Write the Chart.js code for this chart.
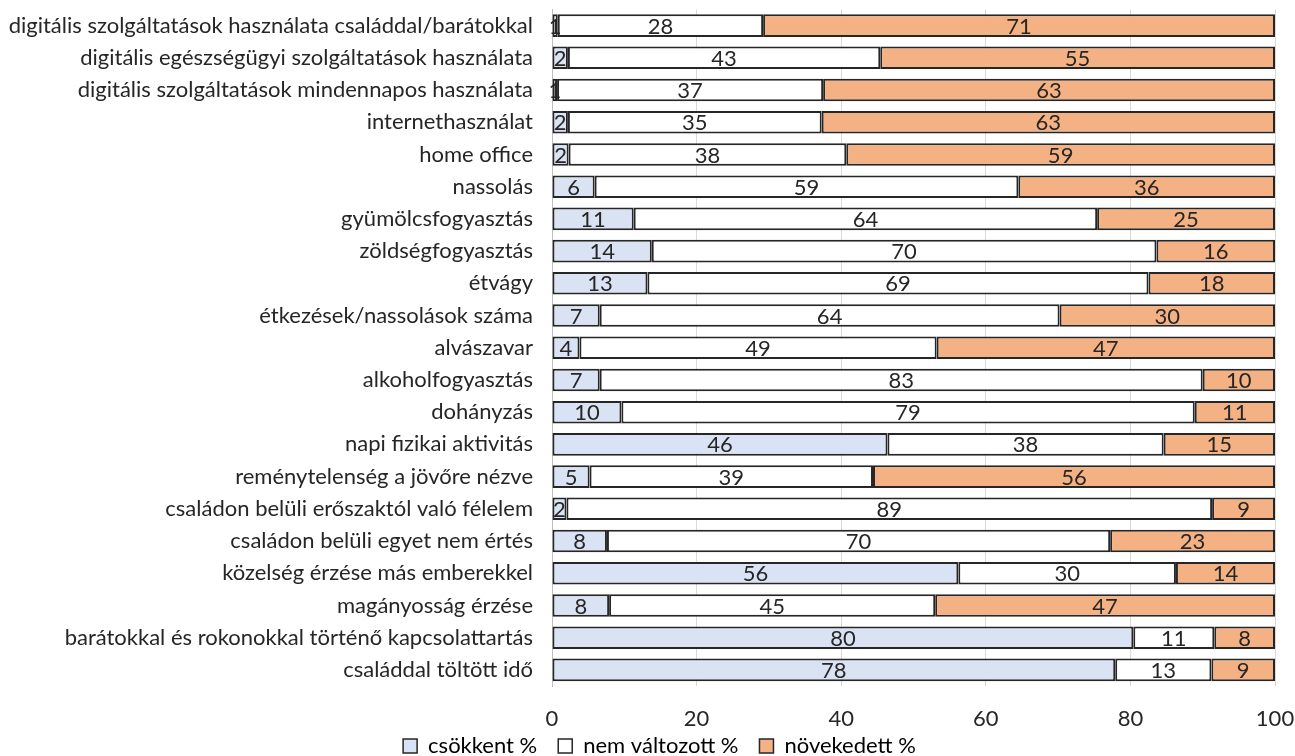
<!DOCTYPE html>
<html>
<head>
<meta charset="utf-8">
<script src="https://cdn.jsdelivr.net/npm/chart.js@4/dist/chart.umd.min.js"></script>
<style>
    body { margin: 0; background: #fff; }
    #wrap { width: 1295px; height: 756px; }
</style>
</head>
<body>
<div id="wrap"><canvas id="chart"></canvas></div>
<script>
const categories = [
    "digitális szolgáltatások használata családdal/barátokkal",
    "digitális egészségügyi szolgáltatások használata",
    "digitális szolgáltatások mindennapos használata",
    "internethasználat",
    "home office",
    "nassolás",
    "gyümölcsfogyasztás",
    "zöldségfogyasztás",
    "étvágy",
    "étkezések/nassolások száma",
    "alvászavar",
    "alkoholfogyasztás",
    "dohányzás",
    "napi fizikai aktivitás",
    "reménytelenség a jövőre nézve",
    "családon belüli erőszaktól való félelem",
    "családon belüli egyet nem értés",
    "közelség érzése más emberekkel",
    "magányosság érzése",
    "barátokkal és rokonokkal történő kapcsolattartás",
    "családdal töltött idő"
];

// values (labels are the rounded values)
const decreased = [0.8, 2.2, 0.7, 2.2, 2.3, 5.9, 11.3, 13.8, 13.2, 6.6, 3.8, 6.6, 9.6, 46.4, 5.2, 2.0, 7.6, 56.2, 7.9, 80.4, 77.9];
const unchanged = [28.4, 43.2, 36.8, 35.1, 38.4, 58.6, 64.1, 69.8, 69.3, 63.6, 49.4, 83.4, 79.3, 38.2, 39.2, 89.3, 69.6, 30.1, 45.1, 11.2, 13.3];
const increased = [70.8, 54.6, 62.5, 62.7, 59.3, 35.5, 24.6, 16.4, 17.5, 29.8, 46.8, 10.0, 11.1, 15.4, 55.6, 8.7, 22.8, 13.7, 47.0, 8.4, 8.8];

const seriesNames = ["csökkent %", "nem változott %", "növekedett %"];
const seriesColors = ["#dae3f3", "#ffffff", "#f4b183"];
const xTicks = [0, 20, 40, 60, 80, 100];

const fontFamily = "Lato, 'Open Sans', sans-serif";
const textColor = "#262626";

// draws the rounded value in the middle of every segment
const segmentLabels = {
    id: 'segmentLabels',
    afterDatasetsDraw(chart) {
        const ctx = chart.ctx;
        ctx.save();
        ctx.font = "22px " + fontFamily;
        ctx.fillStyle = textColor;
        ctx.textAlign = 'center';
        ctx.textBaseline = 'middle';
        chart.data.datasets.forEach((ds, i) => {
            const meta = chart.getDatasetMeta(i);
            meta.data.forEach((bar, j) => {
                const p = bar.getCenterPoint();
                ctx.fillText(String(Math.round(ds.data[j])), p.x, p.y + 1);
            });
        });
        ctx.restore();
    }
};

// legend padding also spaces the items, so move the legend a bit afterwards
const legendNudge = {
    id: 'legendNudge',
    afterLayout(chart) {
        chart.legend.top -= 12;
        chart.legend.bottom -= 12;
        chart.legend.left += 22;
        chart.legend.right += 22;
    }
};

const dataSets = [decreased, unchanged, increased].map((values, i) => ({
    label: seriesNames[i],
    data: values,
    backgroundColor: seriesColors[i],
    borderColor: '#262626',
    borderWidth: 2,
    borderSkipped: false,
    barPercentage: 0.7,
    categoryPercentage: 1.0
}));

new Chart(document.getElementById('chart'), {
    type: 'bar',
    data: {
        labels: categories,
        datasets: dataSets
    },
    plugins: [segmentLabels, legendNudge],
    options: {
        indexAxis: 'y',
        responsive: true,
        maintainAspectRatio: false,
        animation: false,
        layout: {
            padding: { top: 9.5, right: 20, bottom: -23, left: 0 }
        },
        scales: {
            x: {
                stacked: true,
                min: 0,
                max: 100,
                afterBuildTicks: (scale) => {
                    scale.ticks = xTicks.map(v => ({ value: v }));
                },
                afterFit: (scale) => {
                    scale.height = 40;
                    scale.paddingLeft = 0;
                    scale.paddingRight = 0;
                },
                grid: { color: '#d9d9d9', drawTicks: false },
                border: { display: false },
                ticks: {
                    padding: 20,
                    color: textColor,
                    font: { family: fontFamily, size: 22 }
                }
            },
            y: {
                stacked: true,
                afterFit: (scale) => {
                    scale.width = 552;
                    scale.paddingTop = 0;
                    scale.paddingBottom = 0;
                },
                grid: { display: false },
                border: { display: true, color: '#bfbfbf', width: 1 },
                ticks: {
                    padding: 11,
                    autoSkip: false,
                    color: textColor,
                    font: { family: fontFamily, size: 22 }
                }
            }
        },
        plugins: {
            legend: {
                position: 'bottom',
                labels: {
                    boxWidth: 14,
                    boxHeight: 14,
                    padding: 21,
                    color: textColor,
                    font: { family: fontFamily, size: 22 },
                    generateLabels: (chart) => chart.data.datasets.map((ds, i) => ({
                        text: ds.label,
                        fillStyle: ds.backgroundColor,
                        strokeStyle: '#262626',
                        lineWidth: 1.5,
                        datasetIndex: i
                    }))
                }
            },
            tooltip: { enabled: false }
        }
    }
});
</script>
</body>
</html>
